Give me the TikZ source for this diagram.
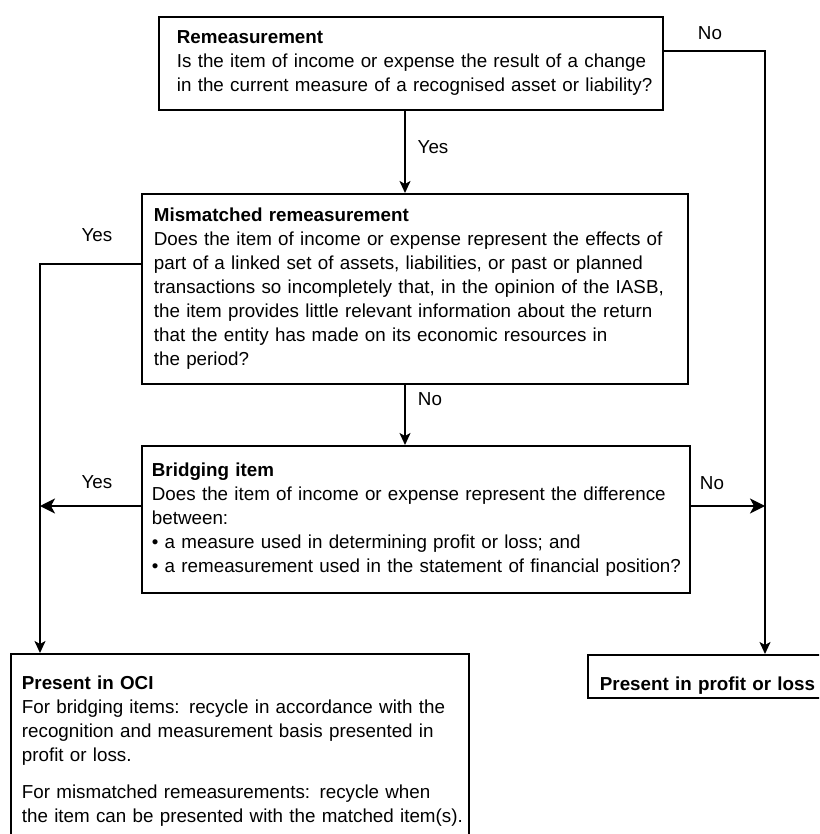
\documentclass[tikz,border=0pt]{standalone}
\usepackage{fontspec}
\setmainfont{Liberation Sans}
\usetikzlibrary{arrows.meta}
\newcommand\myfs{\fontsize{18.8}{24}\selectfont}
\tikzset{
  box/.style={draw, line width=1.8pt, inner xsep=0pt, align=left, anchor=north west, font=\myfs},
  lbl/.style={font=\myfs, inner sep=0pt, anchor=center},
  conn/.style={line width=1.8pt},
  arrv/.style={conn, -{Stealth[length=12pt,width=11pt,inset=3pt]}},
  arrh/.style={conn, -{Stealth[length=15pt,width=15pt,inset=4pt]}},
}
\begin{document}
\begin{tikzpicture}[x=1pt,y=-1pt]
\useasboundingbox (0,0) rectangle (819,834);
\fill[white] (0,0) rectangle (819,834);
\clip (0,0) rectangle (819,834);

\node[box, text width=504pt, minimum height=93pt] (b1) at (158,16)
  {\leftskip=18pt \textbf{Remeasurement}\\
   Is the item of income or expense the result of a change\\
   in the current measure of a recognised asset or liability?\par};

\node[box, text width=546pt, minimum height=190pt] (b2) at (141,193)
  {\leftskip=12pt \textbf{Mismatched remeasurement}\\
   Does the item of income or expense represent the effects of\\
   part of a linked set of assets, liabilities, or past or planned\\
   transactions so incompletely that, in the opinion of the IASB,\\
   the item provides little relevant information about the return\\
   that the entity has made on its economic resources in\\
   the period?\par};

\node[box, text width=548pt, minimum height=147pt] (b3) at (141,445)
  {\leftskip=10pt \textbf{Bridging item}\\
   Does the item of income or expense represent the difference\\
   between:\\
   • a measure used in determining profit or loss; and\\
   • a remeasurement used in the statement of financial position?\par};

\node[box, text width=458pt, inner ysep=22.3pt] (oci) at (10,653)
  {\leftskip=11pt \textbf{Present in OCI}\\
   For bridging items: recycle in accordance with the\\
   recognition and measurement basis presented in\\
   profit or loss.\\[13pt]
   For mismatched remeasurements: recycle when\\
   the item can be presented with the matched item(s).\par};

\node[box, text width=260pt, inner ysep=0pt, text height=36pt, text depth=7pt] (pl) at (587,654)
  {\leftskip=12pt \textbf{Present in profit or loss}\par};

\coordinate (cx) at (405,0);
\coordinate (c1) at (765,51);
\coordinate (c2) at (40,264);
\coordinate (c3) at (40,506);
\coordinate (c4) at (765,506);

\draw[arrv] (c1 -| b1.east) -- (c1) -- (c1 |- pl.north);
\draw[arrv] (cx |- b1.south) -- (cx |- b2.north);
\draw[arrv] (c2 -| b2.west) -- (c2) -- (c2 |- oci.north);
\draw[arrv] (cx |- b2.south) -- (cx |- b3.north);
\draw[arrh] (c3 -| b3.west) -- (c3);
\draw[arrh] (c4 -| b3.east) -- (c4);

\node[lbl] (l1) at (710,33) {No};
\node[lbl] (l2) at (433,147) {Yes};
\node[lbl] (l3) at (97,235) {Yes};
\node[lbl] (l4) at (430,399) {No};
\node[lbl] (l5) at (97,482) {Yes};
\node[lbl] (l6) at (712,483) {No};
\end{tikzpicture}
\end{document}
